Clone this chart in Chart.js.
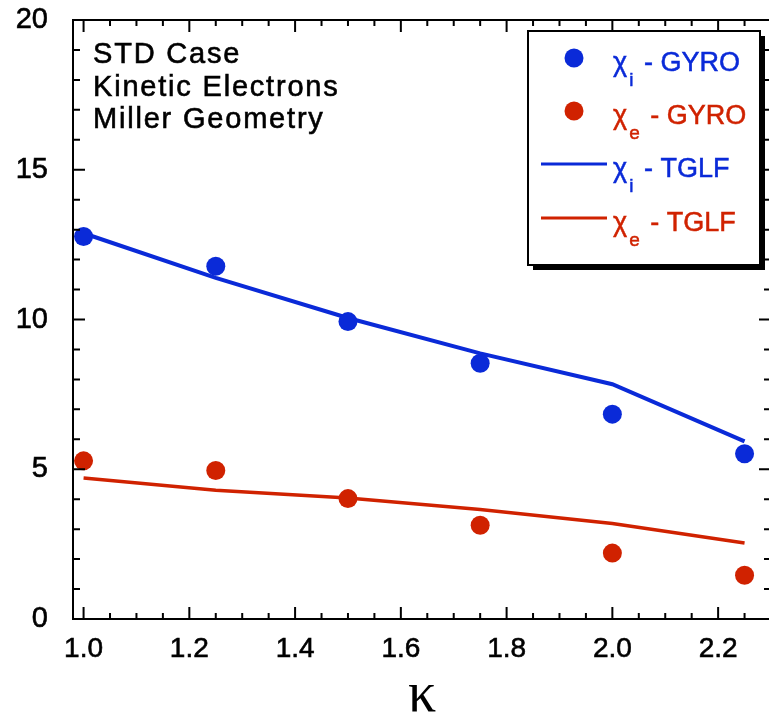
<!DOCTYPE html>
<html>
<head>
<meta charset="utf-8">
<script src="https://cdn.jsdelivr.net/npm/chart.js@4"></script>
<style>
  html, body { margin: 0; padding: 0; background: #fff; overflow: hidden; }
  canvas { display: block; }
</style>
</head>
<body>
<canvas id="chart" width="772" height="724"></canvas>
<script>
// elongation scan: GYRO points vs TGLF curves
const kappa    = [1.0, 1.25, 1.5, 1.75, 2.0, 2.25];
const chiIGyro = [12.77, 11.78, 9.93, 8.54, 6.84, 5.52];
const chiEGyro = [5.28, 4.96, 4.02, 3.13, 2.20, 1.46];
const chiITglf = [12.88, 11.39, 10.05, 8.87, 7.84, 5.93];
const chiETglf = [4.71, 4.30, 4.04, 3.66, 3.19, 2.54];
const xTicks   = [1.0, 1.2, 1.4, 1.6, 1.8, 2.0, 2.2];
const yTicks   = [0, 5, 10, 15, 20];
const caseNotes = ['STD Case', 'Kinetic Electrons', 'Miller Geometry'];

const BLUE = '#0a2ad8';
const RED  = '#d02200';
const SANS = 'Liberation Sans, Arial, sans-serif';

const pts = ys => kappa.map((k, i) => ({ x: k, y: ys[i] }));

// inward ticks on all four sides + box frame
const frame = {
  id: 'frame',
  afterDatasetsDraw(chart) {
    const { ctx, chartArea: a, scales: { x, y } } = chart;
    ctx.save();
    ctx.strokeStyle = '#000';
    ctx.lineWidth = 2;
    ctx.strokeRect(a.left, a.top, a.right - a.left, a.bottom - a.top);
    ctx.beginPath();
    for (let i = 20; i <= 45; i++) {
      const px = x.getPixelForValue(i * 0.05);
      const len = i % 4 === 0 ? 12 : 6;
      ctx.moveTo(px, a.bottom); ctx.lineTo(px, a.bottom - len);
      ctx.moveTo(px, a.top);    ctx.lineTo(px, a.top + len);
    }
    for (let j = 1; j < 20; j++) {
      const py = y.getPixelForValue(j);
      const len = j % 5 === 0 ? 12 : 7;
      ctx.moveTo(a.left, py);  ctx.lineTo(a.left + len, py);
      ctx.moveTo(a.right, py); ctx.lineTo(a.right - len, py);
    }
    ctx.stroke();

    ctx.fillStyle = '#000';
    ctx.strokeStyle = '#000';
    ctx.lineWidth = 0.6;
    ctx.font = '29px ' + SANS;
    ctx.letterSpacing = '1.8px';
    ctx.textBaseline = 'alphabetic';
    caseNotes.forEach((t, i) => {
      ctx.fillText(t, a.left + 20, 63 + i * 32.5);
      ctx.strokeText(t, a.left + 20, 63 + i * 32.5);
    });
    ctx.restore();
  }
};

// boxed key with drop shadow and subscripted chi labels
const keyBox = {
  id: 'keyBox',
  afterDraw(chart) {
    const ctx = chart.ctx;
    const bx = 528, by = 31, bw = 232, bh = 234;
    const rows = [58, 111, 164, 218];
    ctx.save();
    ctx.fillStyle = '#000';
    ctx.fillRect(bx + 5, by + 5, bw, bh);
    ctx.fillStyle = '#fff';
    ctx.fillRect(bx, by, bw, bh);
    ctx.lineWidth = 2;
    ctx.strokeStyle = '#000';
    ctx.strokeRect(bx, by, bw, bh);

    chart.data.datasets.forEach((ds, i) => {
      const cy = rows[i];
      const col = ds.borderColor;
      if (ds.showLine) {
        ctx.strokeStyle = col;
        ctx.lineWidth = 3;
        ctx.beginPath();
        ctx.moveTo(541, cy); ctx.lineTo(607, cy);
        ctx.stroke();
      } else {
        ctx.fillStyle = col;
        ctx.beginPath();
        ctx.arc(574, cy, 9.5, 0, Math.PI * 2);
        ctx.fill();
      }
      const base = cy + 13;
      let tx = 613;
      ctx.fillStyle = col;
      ctx.strokeStyle = col;
      ctx.lineWidth = 0.5;
      const put = (t, px, py) => { ctx.fillText(t, px, py); ctx.strokeText(t, px, py); };
      ctx.font = '27px ' + SANS;
      put('χ', tx, base);
      tx += ctx.measureText('χ').width + 2;
      ctx.font = '19px ' + SANS;
      put(ds.sub, tx, base + 15);
      tx += ctx.measureText(ds.sub).width + 3;
      ctx.font = '27px ' + SANS;
      put(' - ' + ds.code, tx, base);
    });
    ctx.restore();
  }
};

new Chart(document.getElementById('chart'), {
  type: 'scatter',
  data: {
    datasets: [
      { label: 'χi - GYRO', sub: 'i', code: 'GYRO', data: pts(chiIGyro),
        borderColor: BLUE, backgroundColor: BLUE, pointRadius: 9.5, pointBorderWidth: 0 },
      { label: 'χe - GYRO', sub: 'e', code: 'GYRO', data: pts(chiEGyro),
        borderColor: RED, backgroundColor: RED, pointRadius: 9.5, pointBorderWidth: 0 },
      { label: 'χi - TGLF', sub: 'i', code: 'TGLF', data: pts(chiITglf), showLine: true,
        borderColor: BLUE, borderWidth: 4, pointRadius: 0, tension: 0 },
      { label: 'χe - TGLF', sub: 'e', code: 'TGLF', data: pts(chiETglf), showLine: true,
        borderColor: RED, borderWidth: 3.5, pointRadius: 0, tension: 0 }
    ]
  },
  options: {
    responsive: false,
    devicePixelRatio: 1,
    animation: false,
    clip: false,
    // frame runs 2px past the visible right edge, like the original plot
    layout: { autoPadding: false, padding: { top: 20, right: 1, left: 0, bottom: 0 } },
    plugins: { legend: { display: false }, tooltip: { enabled: false } },
    scales: {
      x: {
        type: 'linear', min: 0.98, max: 2.3,
        afterBuildTicks: s => { s.ticks = xTicks.map(v => ({ value: v })); },
        afterFit: s => { s.height = 105; s.paddingLeft = 0; s.paddingRight = 0; },
        grid: { display: false }, border: { display: false },
        ticks: { color: '#000', font: { family: SANS, size: 28 }, padding: 5,
                 textStrokeColor: '#000', textStrokeWidth: 0.6,
                 maxRotation: 0, callback: v => v.toFixed(1) },
        title: { display: true, text: 'κ', color: '#000', padding: 0,
                 font: { family: 'Liberation Serif, serif', size: 56, lineHeight: 1 } }
      },
      y: {
        type: 'linear', min: 0, max: 20,
        afterBuildTicks: s => { s.ticks = yTicks.map(v => ({ value: v })); },
        afterFit: s => { s.width = 73; s.paddingTop = 0; s.paddingBottom = 0; },
        grid: { display: false }, border: { display: false },
        ticks: { color: '#000', font: { family: SANS, size: 29 }, padding: 17,
                 textStrokeColor: '#000', textStrokeWidth: 0.6 }
      }
    }
  },
  plugins: [frame, keyBox]
});
</script>
</body>
</html>
